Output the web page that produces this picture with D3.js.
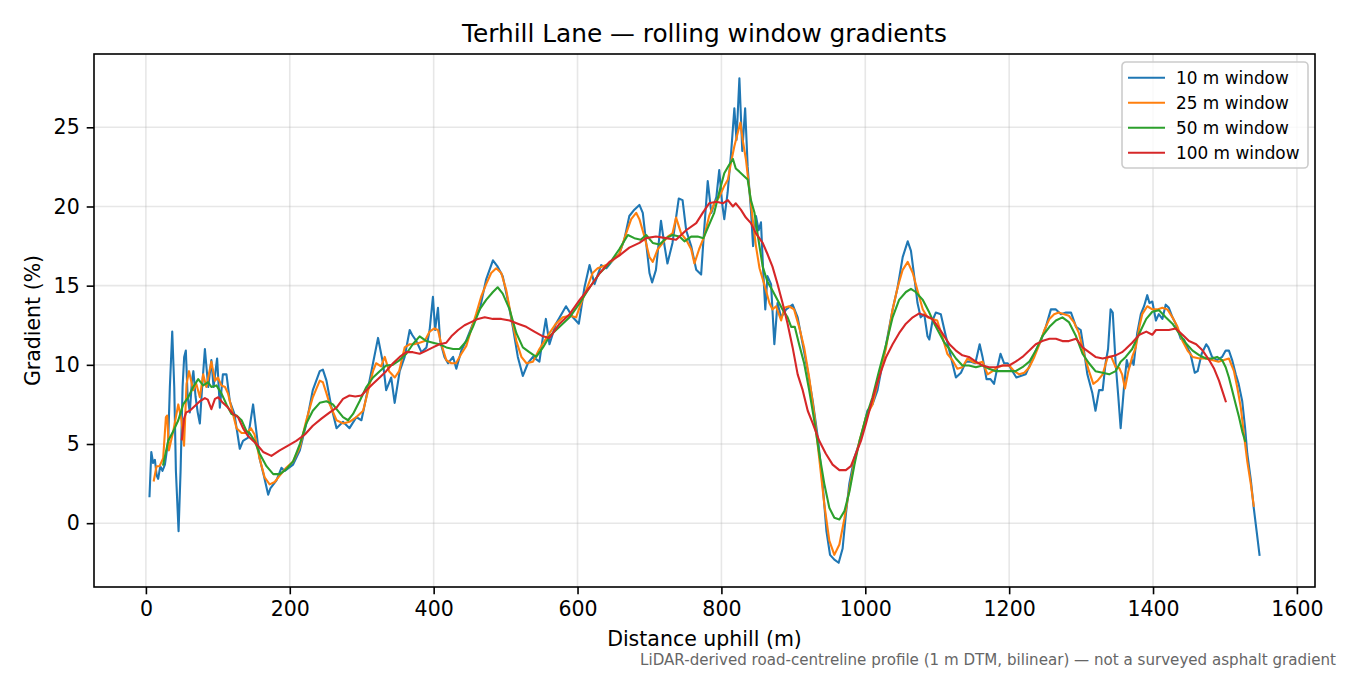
<!DOCTYPE html>
<html>
<head>
<meta charset="utf-8">
<script src="https://cdn.jsdelivr.net/npm/d3@7"></script>
<style>
  body { margin: 0; background: #fff; }
  svg { font-family: "DejaVu Sans", sans-serif; }
</style>
</head>
<body>
<script>
// Terhill Lane: rolling-window gradients

var dist10 = [5, 7.5, 10, 12.5, 15, 17, 20, 23, 26.4, 31, 33.3, 36.6, 39.4, 41.7, 45.4, 48.2, 51, 53.2, 55.5, 58, 61, 64, 66, 69, 72, 75, 78, 82, 86.6, 91, 94, 99, 102.8, 107, 112, 116.7, 123, 130.5, 135, 142, 149, 158, 164, 170, 173, 181.5, 188.4, 193, 204.6, 214, 223, 232, 241.7, 246, 251, 258, 265, 274, 283, 292.6, 299.6, 306.5, 315.7, 322.7, 329.6, 334, 341, 345.8, 352.8, 359.7, 366.7, 370, 376, 383, 390, 394.4, 399, 402, 406, 409, 415, 420, 427, 431.5, 438.5, 445, 454.6, 464, 473, 482.4, 489, 496, 503, 510, 517, 524, 531, 538, 547, 552, 556, 561, 570, 584, 593.5, 601.8, 609.7, 616.7, 623.6, 632.9, 640, 649, 658, 665, 672, 679, 686, 690.7, 695.4, 700, 703.7, 709, 716, 721, 725, 732, 740.7, 746, 751, 758, 765, 771.8, 776, 781, 786, 793, 797, 801, 804, 808.7, 813.5, 818, 821, 825, 829, 833, 836.5, 841, 844, 848, 851.8, 855, 858, 861, 864, 869, 873.6, 878, 883, 890, 899, 906, 913, 920, 927, 934, 940.7, 946, 951, 957, 963, 968.5, 973, 977.8, 984.7, 994, 1003, 1010, 1017, 1024, 1031, 1038, 1045, 1052, 1059, 1063.5, 1068, 1072.6, 1077, 1082, 1086.5, 1089, 1093.5, 1098, 1105, 1112, 1119, 1126, 1133, 1140, 1147, 1153, 1159, 1163, 1168.5, 1174, 1179, 1183, 1188, 1193, 1198, 1204.6, 1210, 1216, 1223, 1230, 1237, 1244, 1251, 1258, 1265, 1272, 1279, 1286, 1293, 1299.5, 1304, 1308.7, 1315.7, 1320, 1325, 1330, 1334, 1337.5, 1341, 1344, 1348, 1351.8, 1355, 1360, 1363.5, 1366, 1371, 1373, 1378, 1383, 1387.5, 1392, 1395, 1399, 1404, 1408, 1413, 1417.6, 1422, 1427, 1431.5, 1438.5, 1443, 1447.7, 1452, 1458, 1462, 1467.6, 1474, 1477, 1482, 1489, 1496, 1501, 1505.5, 1510, 1515, 1519, 1524, 1528, 1531, 1536, 1540, 1544, 1548];
var grad10 = [1.7, 4.5, 3.8, 4.0, 3.0, 2.8, 3.6, 3.3, 3.7, 5.2, 8.6, 12.1, 8.6, 3.3, -0.5, 3.3, 8.6, 10.5, 10.9, 8.0, 7.0, 9.0, 9.6, 8.0, 7.0, 6.3, 8.5, 11.0, 8.6, 10.3, 8.6, 10.4, 7.3, 9.4, 9.4, 7.7, 6.9, 4.7, 5.2, 5.4, 7.5, 4.1, 3.0, 1.8, 2.2, 2.7, 3.5, 3.3, 3.7, 4.6, 6.3, 8.4, 9.6, 9.7, 9.0, 7.3, 6.0, 6.4, 6.0, 6.7, 6.5, 8.0, 10.1, 11.7, 10.1, 8.4, 9.2, 7.6, 9.6, 10.5, 12.2, 11.9, 11.5, 10.8, 11.1, 12.2, 14.3, 12.2, 13.6, 11.5, 10.5, 10.1, 10.5, 9.75, 10.9, 11.5, 12.6, 13.5, 15.4, 16.6, 16.2, 15.6, 14.1, 12.4, 10.5, 9.3, 10.1, 10.5, 10.2, 11.8, 12.9, 11.3, 12.6, 13.7, 13.0, 12.6, 14.9, 16.3, 15.1, 16.3, 16.1, 16.6, 17.0, 17.9, 19.4, 19.8, 20.1, 19.6, 17.7, 15.8, 15.2, 16.0, 19.1, 17.5, 16.4, 17.7, 20.5, 20.4, 18.5, 17.5, 16.0, 15.7, 18.5, 21.6, 19.6, 20.6, 22.3, 20.2, 19.2, 20.9, 23.4, 26.2, 24.2, 28.1, 23.5, 26.2, 22.5, 19.8, 17.5, 19.4, 18.5, 19.0, 16.0, 13.5, 15.6, 15.1, 11.3, 13.9, 13.0, 13.5, 13.8, 13.0, 11.3, 9.6, 7.7, 5.4, 2.5, -0.5, -2.0, -2.3, -2.5, -1.6, 0.55, 2.5, 4.1, 5.4, 7.1, 7.5, 8.4, 10.1, 11.8, 13.5, 14.9, 16.8, 17.8, 17.2, 15.6, 13.9, 13.0, 13.2, 11.8, 11.6, 12.8, 13.3, 13.2, 11.8, 10.5, 9.2, 9.5, 10.2, 10.2, 10.1, 11.3, 10.5, 9.1, 9.1, 8.8, 9.7, 10.7, 10.1, 10.1, 9.6, 9.2, 9.3, 9.4, 10.1, 10.9, 11.5, 12.4, 13.5, 13.5, 13.2, 13.3, 13.3, 12.4, 12.2, 10.9, 9.4, 8.2, 7.1, 8.4, 8.4, 10.1, 11.0, 13.5, 13.3, 10.1, 7.95, 6.0, 8.8, 10.3, 9.8, 10.3, 10.0, 12.0, 13.2, 13.7, 14.4, 13.9, 14.0, 12.8, 13.2, 12.9, 13.8, 13.6, 13.0, 12.6, 11.65, 11.6, 11.1, 10.7, 9.5, 9.6, 10.7, 11.3, 11.1, 10.5, 10.3, 10.5, 10.9, 10.9, 10.3, 9.4, 8.8, 7.7, 6.0, 4.4, 2.7, 0.97, -0.5, -2.0];

var dist25 = [11, 14.8, 19, 24, 27.8, 29.6, 32, 38, 45, 49.5, 53, 56.5, 60, 65.7, 70, 75, 79.6, 84, 91, 96, 100, 105, 110, 114, 121, 126, 133, 140, 146, 151, 158, 165, 172, 179, 186, 195, 204.6, 214, 223, 232, 241.7, 246, 251, 255.6, 265, 274, 283, 292.6, 302, 309, 315.7, 320, 327, 332, 338, 346, 352, 359.7, 366.7, 373, 380.5, 387.5, 394.4, 401, 406, 410.7, 417.6, 424.6, 431, 438.5, 445.4, 452, 459, 466, 473, 480, 487, 494, 501, 508, 515, 522, 529, 538, 547, 561, 570, 579.6, 589, 598, 605, 612, 621, 628, 640, 649, 658, 667.6, 674.6, 681.5, 686, 693, 700, 704.6, 711.5, 718.5, 725.4, 732, 737, 744, 751, 758, 762.5, 769, 776, 783, 790, 797, 804, 809, 813.5, 818, 823, 826.4, 829.6, 834, 839, 843.5, 848, 853, 862, 866.7, 871, 876, 883, 887.5, 894, 901, 908, 915, 922, 929, 936, 943, 950, 957, 964, 971, 978, 985, 992, 1001, 1010, 1019, 1029, 1038, 1045, 1052, 1059, 1066, 1072.6, 1080, 1086.5, 1093, 1100, 1107, 1114, 1121, 1128, 1135, 1142, 1149, 1156, 1163, 1170, 1177, 1184, 1191, 1200, 1207, 1214, 1221, 1228, 1235, 1242, 1249, 1256, 1262.5, 1269, 1276.4, 1283, 1290, 1297, 1304, 1311, 1317, 1323, 1330, 1337, 1342, 1348, 1353, 1357, 1361, 1365.7, 1371, 1376, 1381, 1385, 1392, 1399, 1406, 1413, 1420, 1427, 1434, 1441, 1448, 1455, 1464.6, 1473, 1482, 1491, 1498.6, 1505.5, 1512.5, 1517, 1522, 1526.4, 1531, 1536, 1540];
var grad25 = [2.7, 3.6, 3.6, 4.1, 6.7, 6.8, 4.6, 5.8, 7.5, 6.5, 4.9, 8.8, 9.6, 8.4, 8.8, 7.95, 9.4, 8.6, 10.2, 9.0, 9.2, 8.7, 8.6, 8.2, 6.9, 6.0, 5.7, 5.7, 6.0, 5.6, 4.1, 2.9, 2.45, 2.6, 3.0, 3.5, 3.9, 4.8, 6.5, 7.95, 9.0, 8.9, 8.2, 7.5, 6.5, 6.3, 6.4, 6.7, 7.1, 8.4, 9.6, 10.1, 9.9, 10.5, 9.6, 9.2, 9.6, 11.1, 11.3, 11.3, 11.4, 11.5, 12.1, 12.3, 12.2, 11.3, 10.3, 10.1, 10.1, 10.7, 11.2, 12.2, 13.2, 14.3, 15.1, 15.8, 16.1, 15.8, 14.7, 13.0, 11.5, 10.5, 10.1, 10.2, 11.0, 12.0, 12.6, 13.0, 13.1, 13.0, 13.9, 14.7, 15.8, 16.1, 16.3, 16.6, 17.0, 18.3, 19.2, 19.6, 19.2, 18.1, 16.8, 16.5, 17.3, 17.7, 18.1, 18.3, 19.3, 18.3, 17.9, 17.3, 16.4, 17.3, 18.1, 19.4, 20.2, 20.6, 21.3, 21.7, 22.8, 23.8, 24.7, 25.3, 24.2, 23.0, 21.0, 19.2, 17.5, 16.1, 14.7, 13.9, 13.5, 13.7, 12.8, 13.6, 13.7, 13.5, 12.4, 11.1, 9.2, 6.9, 4.1, 1.2, -1.1, -2.0, -1.35, 0.3, 2.2, 3.9, 5.2, 6.7, 7.5, 9.2, 11.1, 13.5, 14.9, 16.0, 16.5, 15.8, 14.7, 13.5, 13.0, 12.9, 12.8, 11.8, 10.7, 10.3, 9.75, 9.85, 10.4, 10.2, 10.1, 10.2, 9.4, 9.6, 9.85, 9.96, 9.96, 9.6, 9.4, 9.5, 9.85, 10.5, 11.3, 12.2, 12.9, 13.2, 13.3, 13.2, 13.1, 12.7, 12.0, 10.7, 9.6, 8.8, 9.0, 9.4, 10.5, 10.5, 9.85, 9.8, 9.4, 8.5, 9.6, 10.5, 11.1, 12.4, 13.2, 13.7, 13.5, 13.5, 13.6, 13.5, 13.0, 12.4, 11.5, 10.9, 10.5, 10.4, 10.4, 10.3, 10.2, 10.3, 10.4, 9.6, 8.6, 7.3, 5.6, 3.9, 2.45, 1.1];

var dist50 = [24, 31, 38, 45, 51.8, 58.8, 65.7, 72.7, 79.6, 86.6, 91, 98, 105, 112, 119, 126, 133, 140, 144, 151, 158, 167.6, 177, 186, 195, 204.6, 214, 223, 232, 241.7, 251, 260, 265, 274, 281, 288, 297, 306.5, 315.7, 325, 334, 343, 352.8, 362, 371, 380.5, 390, 399, 408, 417.6, 427, 436, 445.4, 454.6, 464, 473, 482.4, 489, 496, 505.6, 515, 524, 533, 542.6, 552, 561, 575, 589, 603, 617, 631, 644.4, 658, 670, 679, 688, 695.4, 704.6, 714, 723, 732, 741.7, 748.6, 758, 767, 775, 783, 790, 797, 804, 811, 816, 820, 825, 832, 836.5, 841, 846, 850.5, 857.4, 864, 871, 878, 885, 892, 897, 902, 908, 915, 922, 929, 936, 943, 950, 957, 964, 971, 978, 985, 992, 1001, 1010, 1019, 1029, 1038, 1047, 1056.5, 1063.5, 1070, 1080, 1089, 1096, 1103, 1110, 1117, 1126, 1135, 1144, 1153.7, 1163, 1172, 1181.5, 1191, 1200, 1209, 1218.5, 1228, 1237, 1246, 1256, 1265, 1274, 1283, 1293, 1302, 1311, 1320, 1330, 1339, 1348, 1355, 1362, 1371, 1381, 1390.6, 1399, 1408.3, 1417.6, 1427, 1436, 1445, 1455, 1464.6, 1473.6, 1482, 1489, 1496, 1501, 1505.5, 1510, 1515, 1519.5, 1524, 1528];
var grad50 = [3.7, 5.2, 5.8, 6.5, 7.5, 7.95, 8.6, 9.1, 8.7, 8.9, 8.6, 8.7, 8.2, 7.5, 6.9, 6.8, 6.5, 5.8, 5.7, 5.2, 4.4, 3.6, 3.1, 3.1, 3.4, 3.9, 5.0, 6.3, 7.1, 7.6, 7.7, 7.5, 7.2, 6.7, 6.5, 6.9, 7.7, 8.6, 9.2, 9.6, 9.96, 10.0, 10.3, 10.7, 11.3, 11.8, 11.5, 11.4, 11.3, 11.1, 11.0, 11.0, 11.5, 12.4, 13.5, 14.1, 14.6, 14.9, 14.5, 13.5, 12.0, 11.1, 10.8, 10.5, 11.1, 11.8, 12.4, 13.0, 13.9, 14.9, 15.8, 16.4, 17.3, 18.2, 18.0, 17.9, 18.2, 17.7, 17.6, 18.0, 18.2, 18.1, 17.8, 18.1, 18.1, 18.0, 18.85, 19.6, 20.9, 22.1, 22.65, 23.0, 22.4, 22.2, 21.9, 21.7, 20.4, 19.6, 18.2, 16.2, 15.25, 14.7, 14.1, 13.5, 13.0, 12.4, 12.4, 11.3, 10.1, 8.4, 6.5, 4.4, 2.5, 0.97, 0.34, 0.23, 0.76, 2.0, 3.7, 5.2, 6.7, 7.95, 9.6, 11.3, 13.0, 14.1, 14.6, 14.8, 14.6, 14.1, 13.3, 12.6, 12.0, 11.4, 11.0, 10.4, 9.96, 9.96, 9.85, 9.96, 9.75, 9.6, 9.6, 9.6, 9.6, 9.85, 10.2, 10.9, 11.8, 12.4, 12.8, 13.0, 12.7, 11.8, 10.7, 10.1, 9.6, 9.5, 9.4, 9.6, 10.2, 10.5, 11.0, 12.0, 12.9, 13.35, 13.45, 13.0, 12.6, 12.0, 11.4, 10.9, 10.6, 10.4, 10.4, 10.5, 10.3, 9.85, 9.2, 8.4, 7.5, 6.7, 5.8, 5.2];

var dist100 = [50, 53, 56, 61, 68, 75, 82, 86, 91, 96, 100.5, 107, 114, 121, 128, 135, 142, 153.7, 163, 174.5, 186, 197.6, 209, 221, 232, 244, 255.6, 265, 274, 283, 291, 299.6, 306.5, 315.7, 325, 334, 343.5, 352.8, 362, 371, 380.5, 390, 399, 408, 417.6, 424.6, 434, 443, 452, 461.6, 471, 482.4, 494, 505.6, 517, 528.7, 540, 551.8, 561, 575, 589, 603, 617, 631, 644.4, 658, 672, 686, 695.4, 709, 723, 737, 751, 765, 774, 783, 793, 802, 809, 816, 820, 827, 834, 841, 848, 857.4, 864, 871, 878, 885, 892, 899, 906, 913, 920, 927, 936, 945, 954.6, 964, 973, 980, 987, 994, 1001, 1008, 1015, 1022, 1029, 1038, 1047, 1056.5, 1066, 1075, 1084, 1093, 1098, 1107, 1117, 1126, 1135, 1144, 1153.7, 1163, 1172, 1181.5, 1191, 1200, 1209, 1218.5, 1228, 1237, 1246, 1256, 1265, 1274, 1283, 1293, 1302, 1311, 1320, 1330, 1339, 1348, 1357, 1362, 1371, 1381, 1390.6, 1399, 1404, 1413, 1422, 1431.5, 1441, 1450, 1460, 1469, 1478, 1485, 1491.7, 1496, 1501];
var grad100 = [5.3, 6.6, 7.0, 7.1, 7.4, 7.7, 7.9, 7.8, 7.2, 7.85, 7.95, 7.6, 7.3, 6.9, 6.7, 6.0, 5.5, 5.0, 4.5, 4.25, 4.6, 4.9, 5.2, 5.6, 6.15, 6.6, 7.0, 7.3, 7.85, 8.06, 8.0, 8.06, 8.4, 8.8, 9.2, 9.6, 10.1, 10.5, 10.8, 10.8, 10.7, 10.9, 11.1, 11.3, 11.4, 11.8, 12.2, 12.5, 12.7, 12.9, 13.0, 12.9, 12.9, 12.8, 12.6, 12.4, 12.1, 11.8, 11.7, 12.6, 13.2, 14.1, 14.9, 15.8, 16.5, 16.9, 17.4, 17.7, 18.0, 18.1, 18.0, 17.9, 18.5, 18.95, 19.6, 20.2, 20.3, 20.2, 20.4, 20.0, 20.2, 19.8, 19.3, 18.95, 18.3, 17.7, 17.0, 16.2, 15.1, 13.9, 12.6, 11.1, 9.4, 8.4, 7.1, 6.3, 5.2, 4.4, 3.7, 3.35, 3.35, 3.6, 4.4, 5.2, 6.3, 7.5, 8.6, 9.6, 10.5, 11.3, 12.0, 12.6, 13.0, 13.25, 13.1, 12.9, 12.6, 12.0, 11.3, 10.9, 10.6, 10.5, 10.2, 9.96, 9.85, 9.85, 9.96, 9.96, 10.2, 10.5, 10.9, 11.3, 11.5, 11.65, 11.65, 11.5, 11.5, 11.65, 11.1, 10.8, 10.5, 10.4, 10.5, 10.6, 10.8, 11.0, 11.4, 11.9, 12.1, 11.9, 12.2, 12.2, 12.2, 12.3, 11.9, 11.5, 11.3, 10.9, 10.3, 9.75, 9.0, 8.4, 7.7];

var seriesNames = ["10 m window", "25 m window", "50 m window", "100 m window"];
var seriesColors = ["#1f77b4", "#ff7f0e", "#2ca02c", "#d62728"];
var xTicks = [0, 200, 400, 600, 800, 1000, 1200, 1400, 1600];
var yTicks = [0, 5, 10, 15, 20, 25];

var W = 1350, H = 675;
var margin = {left: 94, right: 35, top: 54, bottom: 88};
var iw = W - margin.left - margin.right, ih = H - margin.top - margin.bottom;

// pair up distances and gradients per series
var series = [[dist10, grad10], [dist25, grad25], [dist50, grad50], [dist100, grad100]].map(function(s, i){
    return {
        name: seriesNames[i],
        color: seriesColors[i],
        values: s[0].map(function(d, j){ return {x: d, y: s[1][j]}; })
    };
});

var all = d3.merge(series.map(function(s){ return s.values; }));
var xe = d3.extent(all, function(d){ return d.x; });
var ye = d3.extent(all, function(d){ return d.y; });
var xm = (xe[1] - xe[0]) * 0.05, ym = (ye[1] - ye[0]) * 0.05;

var x = d3.scaleLinear().domain([xe[0] - xm, xe[1] + xm]).range([0, iw]);
var y = d3.scaleLinear().domain([ye[0] - ym, ye[1] + ym]).range([ih, 0]);

var svg = d3.select("body").append("svg")
    .attr("width", W)
    .attr("height", H);

var g = svg.append("g")
    .attr("transform", "translate(" + margin.left + "," + margin.top + ")");

// grid
g.append("g")
    .attr("class", "grid")
    .selectAll("line.gx")
    .data(xTicks.filter(function(t){ return x(t) >= 0 && x(t) <= iw; }))
    .enter().append("line")
    .attr("x1", function(d){ return x(d); })
    .attr("x2", function(d){ return x(d); })
    .attr("y1", 0).attr("y2", ih)
    .style("stroke", "#b0b0b0").style("stroke-opacity", 0.3).style("stroke-width", 1.6);

g.append("g")
    .selectAll("line.gy")
    .data(yTicks)
    .enter().append("line")
    .attr("x1", 0).attr("x2", iw)
    .attr("y1", function(d){ return y(d); })
    .attr("y2", function(d){ return y(d); })
    .style("stroke", "#b0b0b0").style("stroke-opacity", 0.3).style("stroke-width", 1.6);

// lines
var line = d3.line()
    .x(function(d){ return x(d.x); })
    .y(function(d){ return y(d.y); });

g.selectAll(".series")
    .data(series)
    .enter().append("path")
    .attr("class", "series")
    .attr("d", function(d){ return line(d.values); })
    .style("fill", "none")
    .style("stroke", function(d){ return d.color; })
    .style("stroke-width", 2.1)
    .style("stroke-linejoin", "round")
    .style("stroke-linecap", "square");

// axes
var xAxis = d3.axisBottom(x).tickValues(xTicks).tickFormat(d3.format("d")).tickSize(7.3).tickPadding(7).tickSizeOuter(0);
var yAxis = d3.axisLeft(y).tickValues(yTicks).tickFormat(d3.format("d")).tickSize(7.3).tickPadding(7).tickSizeOuter(0);

var gx = g.append("g").attr("transform", "translate(0," + ih + ")").call(xAxis);
var gy = g.append("g").call(yAxis);

[gx, gy].forEach(function(a){
    a.select(".domain").remove();
    a.selectAll("line").style("stroke", "#000").style("stroke-width", 1.6);
    a.selectAll("text")
        .style("font-family", "DejaVu Sans")
        .style("font-size", "20.5px")
        .style("fill", "#000");
});

// frame
g.append("rect")
    .attr("x", 0).attr("y", 0)
    .attr("width", iw).attr("height", ih)
    .style("fill", "none")
    .style("stroke", "#000")
    .style("stroke-width", 1.6);

// title and labels
svg.append("text")
    .attr("x", margin.left + iw / 2)
    .attr("y", 42)
    .attr("text-anchor", "middle")
    .style("font-size", "24.8px")
    .text("Terhill Lane \u2014 rolling window gradients");

svg.append("text")
    .attr("x", margin.left + iw / 2)
    .attr("y", 646)
    .attr("text-anchor", "middle")
    .style("font-size", "20.5px")
    .text("Distance uphill (m)");

svg.append("text")
    .attr("transform", "translate(40," + (margin.top + ih / 2) + ") rotate(-90)")
    .attr("text-anchor", "middle")
    .style("font-size", "20.5px")
    .text("Gradient (%)");

svg.append("text")
    .attr("x", 1336)
    .attr("y", 665)
    .attr("text-anchor", "end")
    .style("font-size", "15.1px")
    .style("fill", "#666666")
    .text("LiDAR-derived road-centreline profile (1 m DTM, bilinear) \u2014 not a surveyed asphalt gradient");

// legend
var legend = svg.append("g").attr("transform", "translate(1122,62)");
legend.append("rect")
    .attr("width", 186).attr("height", 106)
    .attr("rx", 4)
    .style("fill", "#fff").style("fill-opacity", 0.8)
    .style("stroke", "#cccccc").style("stroke-width", 1.6);

var item = legend.selectAll(".item")
    .data(series)
    .enter().append("g")
    .attr("class", "item")
    .attr("transform", function(d, i){ return "translate(0," + (15.7 + i * 25) + ")"; });

item.append("line")
    .attr("x1", 6).attr("x2", 43)
    .style("stroke", function(d){ return d.color; })
    .style("stroke-width", 2.1);

item.append("text")
    .attr("x", 54)
    .attr("dy", "0.35em")
    .style("font-size", "16.9px")
    .text(function(d){ return d.name; });
</script>
</body>
</html>
